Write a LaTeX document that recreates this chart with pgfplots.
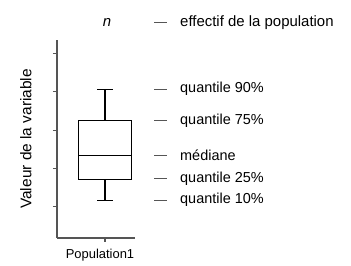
\documentclass[border=0pt]{standalone}
\usepackage{fontspec}
\setmainfont{Liberation Sans}
\usepackage{pgfplots}
\pgfplotsset{compat=1.18}
\definecolor{axgray}{HTML}{555555}
\begin{document}
\begin{tikzpicture}
\begin{axis}[
  scale only axis,
  width=78bp, height=198bp,
  xmin=0, xmax=78,
  ymin=0.193, ymax=5.35,
  axis lines=left,
  axis line style={-, axgray, line width=1.2pt},
  tick style={axgray, line width=1.1pt},
  tick align=outside,
  major tick length=4bp,
  xtick={48}, xticklabels={Population1},
  ytick={1,2,3,4,5}, yticklabels={},
  x tick label style={font=\fontsize{13}{15}\selectfont, yshift=-4bp, xshift=-5bp},
  ylabel={Valeur de la variable},
  ylabel style={at={(axis description cs:-0.28,0.5)}, anchor=south, font=\fontsize{15.5}{17}\selectfont},
  clip=false,
]
% box (Q1 = 1.72, Q3 = 3.24)
\addplot[black, line width=1.1pt, mark=none] coordinates {(21.15,1.72) (74.85,1.72) (74.85,3.24) (21.15,3.24) (21.15,1.72)} -- cycle;
% median
\addplot[black, line width=1.1pt, mark=none] coordinates {(21.15,2.34) (74.85,2.34)};
% upper whisker (P90 = 4.05)
\addplot[black, line width=1.1pt, mark=none] coordinates {(48,3.24) (48,4.05)};
\addplot[black, line width=1.1pt, mark=none] coordinates {(40,4.05) (56,4.05)};
% lower whisker (P10 = 1.17)
\addplot[black, line width=1.1pt, mark=none] coordinates {(48,1.72) (48,1.17)};
\addplot[black, line width=1.1pt, mark=none] coordinates {(40,1.17) (56,1.17)};
\draw[axgray, line width=1pt] (axis cs:97,5.80) -- (axis cs:110,5.80);
\draw[axgray, line width=1pt] (axis cs:97,4.07) -- (axis cs:110,4.07);
\draw[axgray, line width=1pt] (axis cs:97,3.24) -- (axis cs:110,3.24);
\draw[axgray, line width=1pt] (axis cs:97,2.35) -- (axis cs:110,2.35);
\draw[axgray, line width=1pt] (axis cs:97,1.73) -- (axis cs:110,1.73);
\draw[axgray, line width=1pt] (axis cs:97,1.18) -- (axis cs:110,1.18);
\node[anchor=west, inner sep=0pt, font=\fontsize{15}{17}\selectfont] at (axis cs:123,5.80) {effectif de la population};
\node[anchor=west, inner sep=0pt, font=\fontsize{14.5}{16}\selectfont] at (axis cs:123,4.07) {quantile 90\%};
\node[anchor=west, inner sep=0pt, font=\fontsize{14.5}{16}\selectfont] at (axis cs:123,3.24) {quantile 75\%};
\node[anchor=west, inner sep=0pt, font=\fontsize{14.5}{16}\selectfont] at (axis cs:123,2.35) {médiane};
\node[anchor=west, inner sep=0pt, font=\fontsize{14.5}{16}\selectfont] at (axis cs:123,1.73) {quantile 25\%};
\node[anchor=west, inner sep=0pt, font=\fontsize{14.5}{16}\selectfont] at (axis cs:123,1.18) {quantile 10\%};
\node[inner sep=0pt, font=\fontsize{15}{17}\selectfont\itshape] at (axis cs:50,5.80) {n};
\path (axis cs:-57,-0.536) rectangle (axis cs:294,6.39);
\end{axis}
\end{tikzpicture}
\end{document}
